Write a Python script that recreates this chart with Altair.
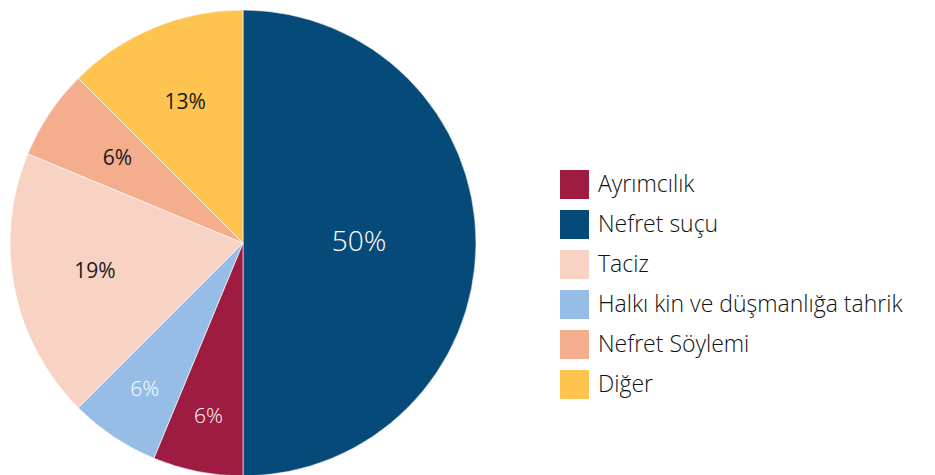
import altair as alt
import pandas as pd

categories = ["Nefret suçu", "Ayrımcılık", "Halkı kin ve düşmanlığa tahrik", "Taciz", "Nefret Söylemi", "Diğer"]
shares = [50, 6.25, 6.25, 18.75, 6.25, 12.5]
labels = ["50%", "6%", "6%", "19%", "6%", "13%"]
legend_order = ["Ayrımcılık", "Nefret suçu", "Taciz", "Halkı kin ve düşmanlığa tahrik", "Nefret Söylemi", "Diğer"]
legend_colors = ["#9E1B42", "#054A78", "#F8D3C3", "#96BDE5", "#F4AE8E", "#FEC44F"]
white_labels = ["Nefret suçu", "Ayrımcılık", "Halkı kin ve düşmanlığa tahrik"]

df = pd.DataFrame({
    "kategori": categories,
    "pay": shares,
    "etiket": labels,
    "sira": list(range(len(categories))),
})
df["renk"] = ["white" if c in white_labels else "dark" for c in df["kategori"]]

FONT = "Open Sans"
THETA_SCALE = alt.Scale(domain=[0, 100])

pie = alt.Chart(df).mark_arc(radius=233, stroke="white", strokeWidth=0.6).encode(
    theta=alt.Theta("pay:Q", stack=True, scale=THETA_SCALE),
    order=alt.Order("sira:Q"),
    color=alt.Color(
        "kategori:N",
        scale=alt.Scale(domain=legend_order, range=legend_colors),
        legend=alt.Legend(
            title=None,
            orient="none",
            legendX=552,
            legendY=160,
            symbolType="square",
            symbolSize=841,
            symbolStrokeWidth=0,
            labelFont=FONT,
            labelFontSize=23,
            labelFontWeight=300,
            labelColor="#111111",
            labelOffset=9,
            rowPadding=11,
            labelLimit=400,
            padding=0,
        ),
    ),
)

text_base = alt.Chart(df).transform_window(
    cum="sum(pay)", sort=[alt.SortField("sira", order="ascending")]
).transform_calculate(
    orta="datum.cum - datum.pay / 2"
)

def text_layer(filter_expr, radius, size, weight):
    return text_base.transform_filter(filter_expr).mark_text(
        radius=radius, font=FONT, fontSize=size, fontWeight=weight, align="center", baseline="middle"
    ).encode(
        theta=alt.Theta("orta:Q", stack=None, scale=THETA_SCALE),
        text="etiket:N",
        color=alt.Color("renk:N", scale=alt.Scale(domain=["white", "dark"], range=["#ffffff", "#1a1a1a"]), legend=None),
    )

t_big = text_layer("datum.kategori == 'Nefret suçu'", 116, 28, 300)
t_mid = text_layer("datum.kategori == 'Taciz' || datum.kategori == 'Nefret Söylemi' || datum.kategori == 'Diğer'", 151, 21, 400)
t_out = text_layer("datum.kategori == 'Ayrımcılık' || datum.kategori == 'Halkı kin ve düşmanlığa tahrik'", 177, 21, 300)

chart = alt.layer(pie, t_big, t_mid, t_out).resolve_scale(color="independent").properties(
    width=470, height=466, padding=0
).configure_view(stroke=None)

chart.save("out.html", embed_options={"renderer": "svg", "actions": False})
